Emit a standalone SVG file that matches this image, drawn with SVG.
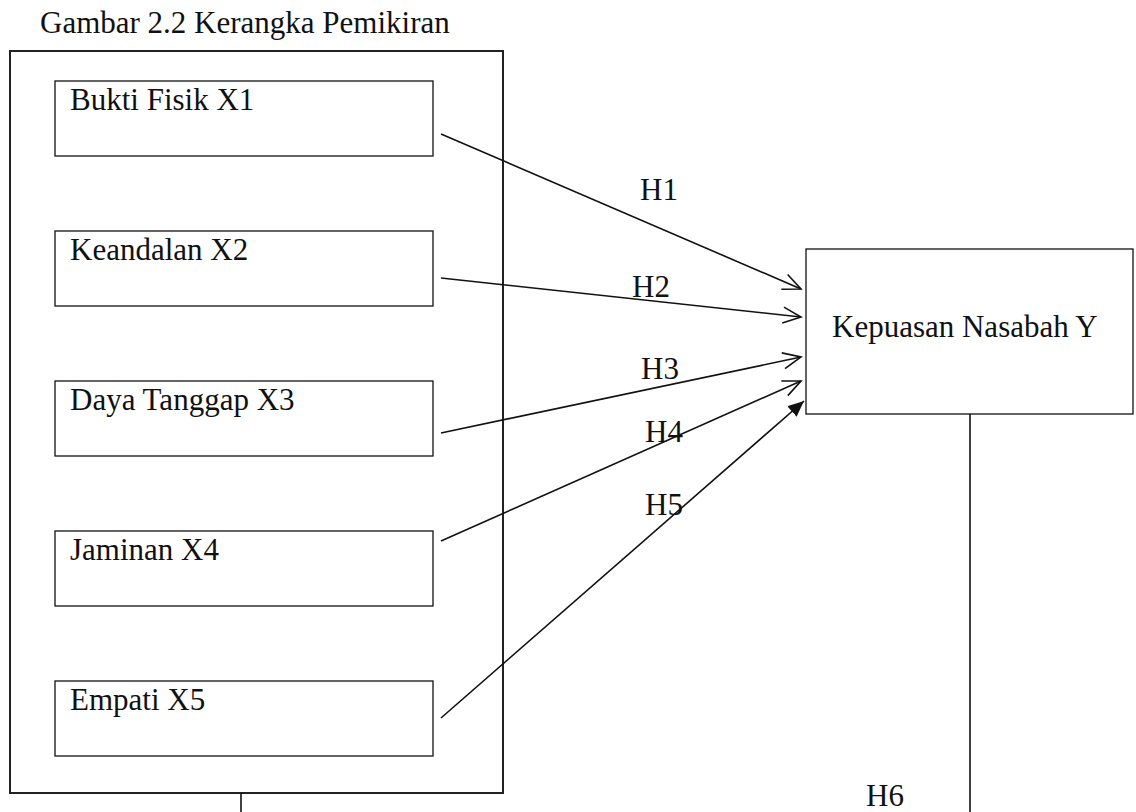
<svg xmlns="http://www.w3.org/2000/svg" width="1136" height="812" viewBox="0 0 1136 812">
<style>
text{font-family:"Liberation Serif","Times New Roman",serif;font-size:31px;fill:#111}
.box{fill:#fff;stroke:#111;stroke-width:1.3}
.outer{fill:none;stroke:#222;stroke-width:2}
.con{fill:none;stroke:#111;stroke-width:1.6}
</style>
<defs>
<marker id="open" markerWidth="22" markerHeight="22" refX="20" refY="10" orient="auto" markerUnits="userSpaceOnUse">
<path d="M2,2 L20,10 L2,18" fill="none" stroke="#111" stroke-width="1.6"/>
</marker>
<marker id="solid" markerWidth="18" markerHeight="14" refX="16" refY="7" orient="auto" markerUnits="userSpaceOnUse">
<path d="M0,0 L16,7 L0,14 Z" fill="#111"/>
</marker>
</defs>
<text x="40" y="33">Gambar 2.2 Kerangka Pemikiran</text>
<g id="outer">
<rect class="outer" x="10" y="51" width="493" height="742"/>
</g>
<g id="x1"><rect class="box" x="55" y="81" width="378" height="75"/><text x="70" y="110">Bukti Fisik X1</text></g>
<g id="x2"><rect class="box" x="55" y="231" width="378" height="75"/><text x="70" y="260">Keandalan X2</text></g>
<g id="x3"><rect class="box" x="55" y="381" width="378" height="75"/><text x="70" y="410">Daya Tanggap X3</text></g>
<g id="x4"><rect class="box" x="55" y="531" width="378" height="75"/><text x="70" y="560">Jaminan X4</text></g>
<g id="x5"><rect class="box" x="55" y="681" width="378" height="75"/><text x="70" y="710">Empati X5</text></g>
<g id="y"><rect class="box" x="806" y="249" width="327" height="165" stroke-width="2"/><text x="832" y="337">Kepuasan Nasabah Y</text></g>
<g id="connectors">
<line class="con" x1="441" y1="134" x2="801" y2="289" marker-end="url(#open)"/>
<line class="con" x1="441" y1="278" x2="801" y2="317" marker-end="url(#open)"/>
<line class="con" x1="441" y1="433" x2="801" y2="357" marker-end="url(#open)"/>
<line class="con" x1="441" y1="541" x2="801" y2="381" marker-end="url(#open)"/>
<line class="con" x1="441" y1="718" x2="804" y2="401" marker-end="url(#solid)"/>
<line class="con" x1="241" y1="793" x2="241" y2="812"/>
<line class="con" x1="970" y1="414" x2="970" y2="812"/>
</g>
<g id="labels">
<text x="640" y="200">H1</text>
<text x="632" y="297">H2</text>
<text x="641" y="379">H3</text>
<text x="645" y="442">H4</text>
<text x="645" y="515">H5</text>
<text x="866" y="806">H6</text>
</g>
</svg>
